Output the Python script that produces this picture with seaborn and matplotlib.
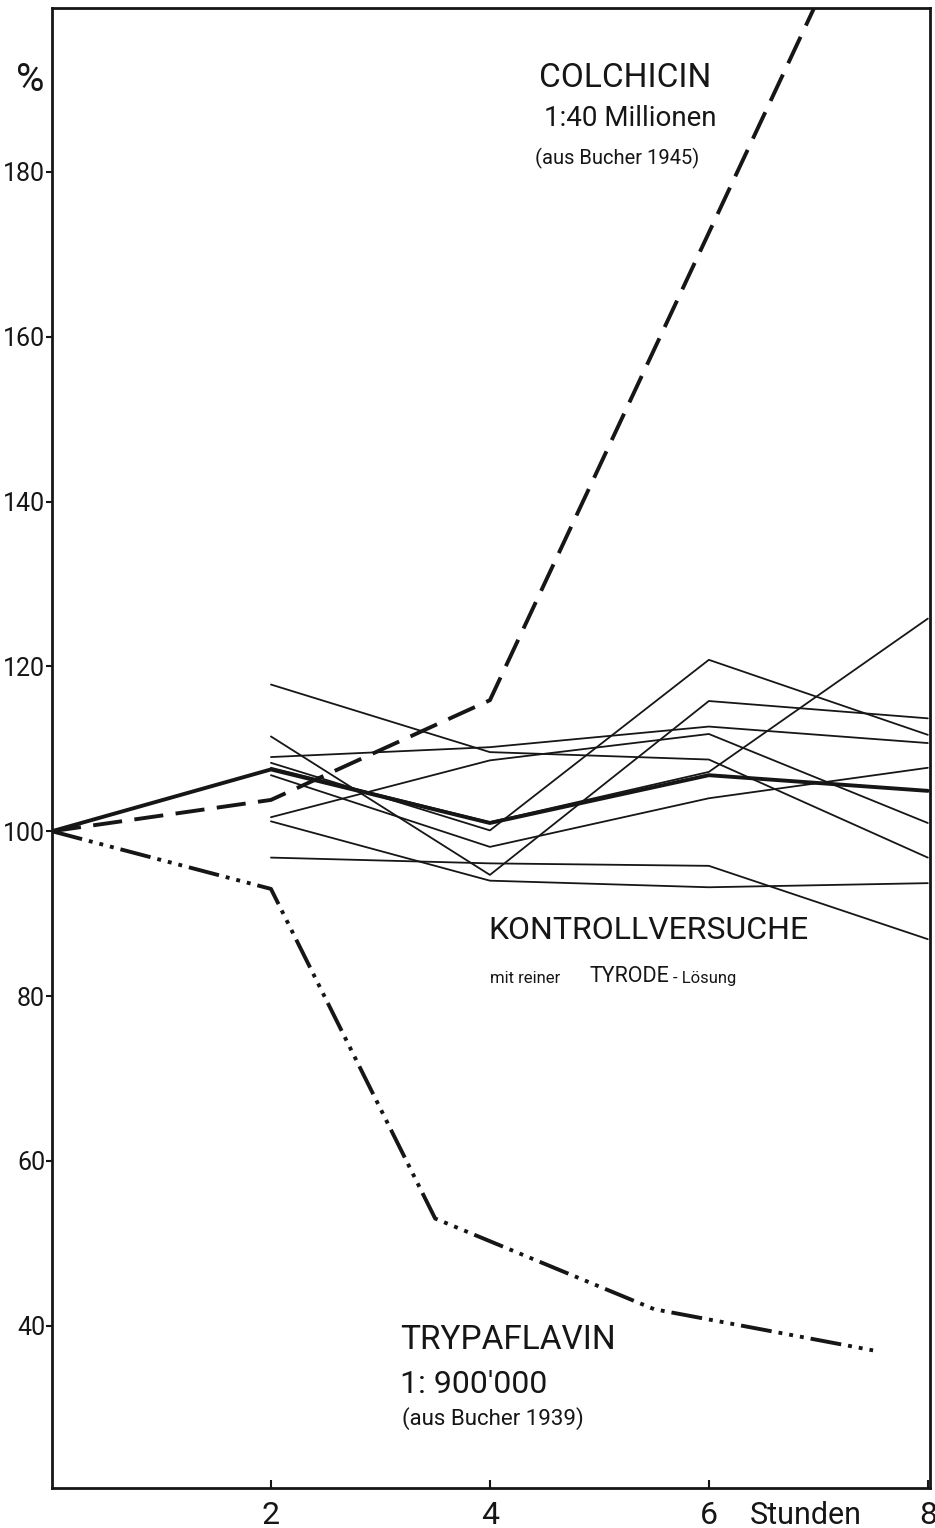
import numpy as np
import pandas as pd
import matplotlib
matplotlib.use("Agg")
import matplotlib.pyplot as plt
import seaborn as sns

# --- data -------------------------------------------------------------
hours = [0, 2, 4, 6, 8]

# mean of the control series (pure Tyrode solution)
control_mean = [100, 107.5, 101.0, 106.8, 104.9]

# individual control experiments, measured at 2, 4, 6 and 8 hours
control_hours = [2, 4, 6, 8]
control_a = [117.8, 109.6, 108.7, 96.8]
control_b = [109.0, 110.2, 112.7, 110.7]
control_c = [101.7, 108.6, 111.8, 101.0]
control_d = [111.5, 94.7, 115.8, 113.7]
control_e = [101.2, 94.0, 93.2, 93.7]
control_f = [96.8, 96.1, 95.8, 86.9]
control_g = [108.3, 100.1, 120.8, 111.7]
control_h = [106.8, 98.1, 104.0, 107.7]
control_i = [107.7, 101.1, 107.2, 125.8]

# Colchicin 1:40 Mio (Bucher 1945)
colchicin_hours = [0, 2, 4, 7]
colchicin = [100, 103.8, 115.9, 201]

# Trypaflavin 1:900'000 (Bucher 1939)
trypa_hours = [0, 2, 3.5, 5.5, 7.5]
trypaflavin = [100, 93.0, 53.0, 42.0, 37.0]

y_ticks = [40, 60, 80, 100, 120, 140, 160, 180]
x_ticks = [2, 4, 6, 8]

# --- long table of the single control runs -----------------------------
runs = {"a": control_a, "b": control_b, "c": control_c, "d": control_d,
        "e": control_e, "f": control_f, "g": control_g, "h": control_h,
        "i": control_i}
controls = pd.DataFrame(
    [(name, h, v) for name, vals in runs.items() for h, v in zip(control_hours, vals)],
    columns=["run", "hours", "value"],
)

# --- figure -------------------------------------------------------------
sns.set_theme(style="white")
plt.rcParams["font.family"] = ["Roboto", "DejaVu Sans"]
plt.rcParams["font.weight"] = "normal"

fig = plt.figure(figsize=(9.35, 15.28), dpi=100)
ax = fig.add_axes([52 / 935, 1 - 1488 / 1528, (930 - 52) / 935, (1488 - 8) / 1528])

ink = "#161616"

sns.lineplot(data=controls, x="hours", y="value", units="run", estimator=None,
             color=ink, lw=1.3, ax=ax, legend=False)
sns.lineplot(x=hours, y=control_mean, color=ink, lw=2.8, ax=ax, errorbar=None)
sns.lineplot(x=colchicin_hours, y=colchicin, color=ink, lw=2.8, ax=ax,
             errorbar=None, linestyle=(0, (7.5, 3.2)))
sns.lineplot(x=trypa_hours, y=trypaflavin, color=ink, lw=2.8, ax=ax,
             errorbar=None, linestyle=(0, (8, 1.8, 1, 1.8, 1, 1.8, 1, 1.8)))

ax.set_xlim(0, 8.02)
ax.set_ylim(20.3, 199.9)
ax.set_xticks(x_ticks)
ax.set_xticklabels(["2", "4", "6", "8"])
ax.set_yticks(y_ticks)
ax.set_yticklabels([str(t) for t in y_ticks])
ax.set_xlabel("")
ax.set_ylabel("")

for side in ["left", "right", "top", "bottom"]:
    ax.spines[side].set_visible(True)
    ax.spines[side].set_color(ink)
    ax.spines[side].set_linewidth(2.0)

ax.tick_params(axis="y", direction="out", length=4, width=1.5, color=ink,
               pad=1, labelsize=18, labelcolor=ink, left=True)
ax.tick_params(axis="x", direction="in", length=6, width=1.5, color=ink,
               pad=9, labelsize=23, labelcolor=ink, bottom=True)
ax.grid(False)

# --- annotations ----------------------------------------------------------
def to_data(px, py):
    return (px - 52) / 109.5, 100 + (831 - py) / 8.24

def label(px, py, s, size, ha="left"):
    x, y = to_data(px, py)
    ax.text(x, y, s, fontsize=size, color=ink, ha=ha, va="center", clip_on=False)

label(30, 80, "%", 28, ha="center")
label(625, 78, "COLCHICIN", 24, ha="center")
label(630, 118, "1:40 Millionen", 20, ha="center")
label(617, 158, "(aus Bucher 1945)", 14.5, ha="center")

label(488, 930, "KONTROLLVERSUCHE", 23)
label(490, 978, "mit reiner", 12)
label(590, 976, "TYRODE", 15.5)
label(673, 978, "- Lösung", 12)

label(400, 1340, "TRYPAFLAVIN", 24)
label(400, 1384, "1: 900'000", 23)
label(402, 1418, "(aus Bucher 1939)", 16)

fig.text(806 / 935, 1 - 1515 / 1528, "Stunden", fontsize=22, color=ink,
         ha="center", va="center")

fig.savefig("out.png", dpi=100, facecolor="white")
